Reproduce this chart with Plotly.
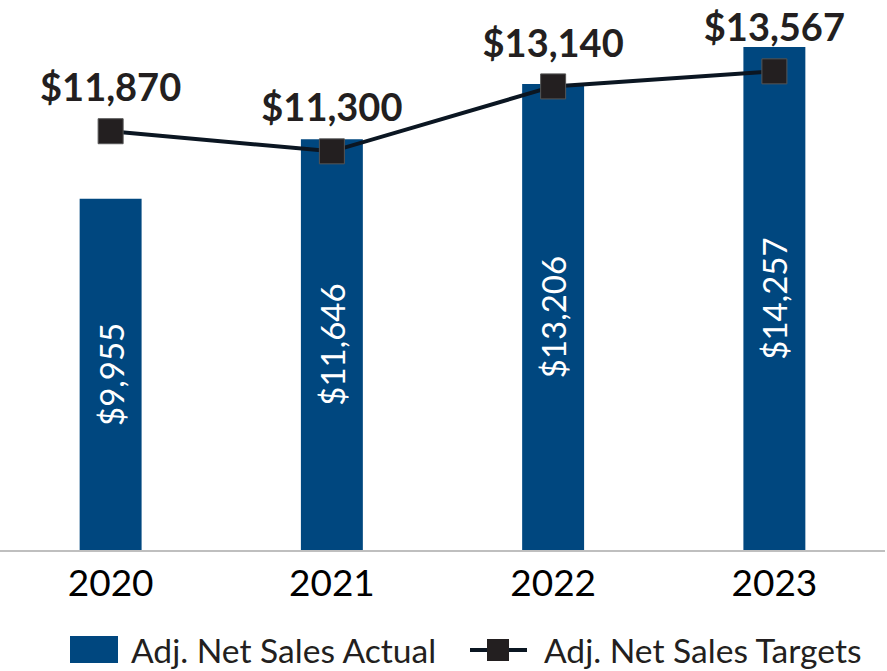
import plotly.graph_objects as go

years = ["2020", "2021", "2022", "2023"]
actual = [9955, 11646, 13206, 14257]
targets = [11870, 11300, 13140, 13567]

actual_labels = [f"${v:,}" for v in actual]
target_labels = [f"${v:,}" for v in targets]

BAR_COLOR = "#00477F"
LINE_COLOR = "#0B1622"
MARK_COLOR = "#231F20"

fig = go.Figure()
fig.add_trace(go.Bar(
    x=years, y=actual, name="Adj. Net Sales Actual",
    marker=dict(color=BAR_COLOR, line=dict(width=0)),
    text=actual_labels, textposition="inside", insidetextanchor="middle",
    textangle=-90, textfont=dict(family="Lato", size=33, color="white"),
    showlegend=False,
))
fig.add_trace(go.Scatter(
    x=years, y=targets, name="Adj. Net Sales Targets",
    mode="lines+markers",
    line=dict(color=LINE_COLOR, width=4),
    marker=dict(symbol="square", size=25, color=MARK_COLOR,
                line=dict(color="#555555", width=1)),
    cliponaxis=False, showlegend=False,
))
# target value labels (invisible larger marker to set the text offset)
fig.add_trace(go.Scatter(
    x=years, y=targets, mode="markers+text",
    marker=dict(size=31, opacity=0),
    text=target_labels, textposition="top center",
    textfont=dict(family="Lato", size=38, color=MARK_COLOR, weight="bold"),
    cliponaxis=False, showlegend=False, hoverinfo="skip",
))

# custom legend (paper coordinates)
W, H, BOT = 885.0, 540.0, 550.0
def px(x): return x / W
def py(y): return (BOT - y) / H

shapes = [
    dict(type="rect", xref="paper", yref="paper", x0=px(70), x1=px(118), y0=py(663), y1=py(636),
         fillcolor=BAR_COLOR, line=dict(width=0)),
    dict(type="line", xref="paper", yref="paper", x0=px(470), x1=px(527), y0=py(650), y1=py(650),
         line=dict(color=LINE_COLOR, width=4)),
    dict(type="rect", xref="paper", yref="paper", x0=px(487), x1=px(509), y0=py(661), y1=py(639),
         fillcolor=MARK_COLOR, line=dict(width=0)),
]
annotations = [
    dict(x=px(129), y=py(650), xref="paper", yref="paper", xanchor="left", yanchor="middle",
         text="Adj. Net Sales Actual", showarrow=False,
         font=dict(family="Lato", size=33.6, color=MARK_COLOR)),
    dict(x=px(542), y=py(650), xref="paper", yref="paper", xanchor="left", yanchor="middle",
         text="Adj. Net Sales Targets", showarrow=False,
         font=dict(family="Lato", size=33.6, color=MARK_COLOR)),
]

fig.update_layout(
    width=887, height=671,
    margin=dict(l=0, r=2, t=10, b=121, autoexpand=False),
    paper_bgcolor="white", plot_bgcolor="white",
    bargap=0.72,
    showlegend=False,
    shapes=shapes, annotations=annotations,
    font=dict(family="Lato"),
)
fig.update_xaxes(type="category", showline=True, linecolor="#BFBFBF", linewidth=2, showgrid=False,
                 ticks="", tickfont=dict(family="Lato", size=37, color="black"))
fig.update_yaxes(range=[0, 15306], visible=False, showgrid=False)

fig.write_html("out.html", config={"displayModeBar": False},
               post_script="document.body.style.margin='0px';")
